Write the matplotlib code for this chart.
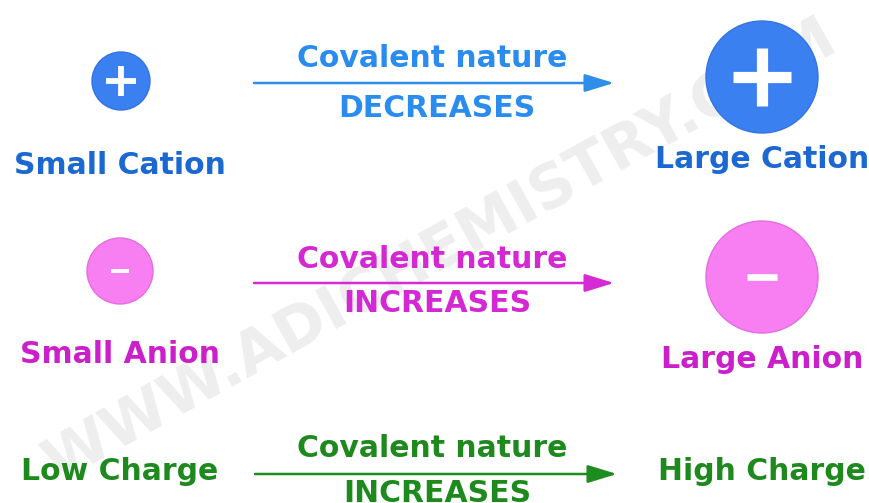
import matplotlib
matplotlib.use("Agg")
import matplotlib.pyplot as plt
from matplotlib.patches import Circle, FancyArrowPatch

# chart content
left_labels = ["Small Cation", "Small Anion", "Low Charge"]
right_labels = ["Large Cation", "Large Anion", "High Charge"]
arrow_caption = "Covalent nature"
trend_words = ["DECREASES", "INCREASES", "INCREASES"]
ion_signs = ["+", "-", None]
watermark = "WWW.ADICHEMISTRY.COM"

# colours per row
label_colors = ["#1b68d2", "#cc1fcc", "#1e8a1e"]
caption_colors = ["#2a8cef", "#d428d4", "#1e8a1e"]
arrow_colors = ["#2f8fe8", "#d52ad5", "#1f8c1f"]
circle_colors = ["#3b80f0", "#f77ff2", None]
circle_edges = ["#3474e0", "#e46ee0", None]

# layout (pixels, y down)
arrow_y = [83, 283, 474]
arrow_x = [(254, 614), (254, 614), (255, 617)]
caption_base = [67, 268, 457]
trend_base = [117, 312, 502]
left_base = [174, 363, 480]
right_base = [168, 368, 480]
small_circ = [(121, 81, 29), (120, 271, 33)]
large_circ = [(762, 77, 56), (762, 277, 56)]

fig = plt.figure(figsize=(8.7, 5.03), dpi=100)
ax = fig.add_axes([0, 0, 1, 1])
ax.set_xlim(0, 870)
ax.set_ylim(503, 0)
ax.axis("off")

fs = 21.5
px = 72 / 100  # points per pixel

ax.text(440, 252, watermark, fontsize=43.5, fontweight="bold", color="#d9d9d9",
        alpha=0.45, rotation=29, ha="center", va="center",
        rotation_mode="anchor", zorder=0)


def draw_ion(cx, cy, r, fc, ec, sign):
    ax.add_patch(Circle((cx, cy), r, facecolor=fc, edgecolor=ec, lw=1, zorder=2))
    if sign == "+":
        arm, lw = r * 0.52, r * 0.2 * px
    else:
        arm, lw = r * 0.26, r * 0.12 * px
    ax.plot([cx - arm, cx + arm], [cy, cy], color="white", lw=lw,
            solid_capstyle="butt", zorder=3)
    if sign == "+":
        ax.plot([cx, cx], [cy - arm, cy + arm], color="white", lw=lw,
                solid_capstyle="butt", zorder=3)


for i in range(3):
    if ion_signs[i]:
        draw_ion(*small_circ[i], circle_colors[i], circle_edges[i], ion_signs[i])
        draw_ion(*large_circ[i], circle_colors[i], circle_edges[i], ion_signs[i])

    x0, x1 = arrow_x[i]
    ax.add_patch(FancyArrowPatch((x0, arrow_y[i]), (x1, arrow_y[i]),
                                 arrowstyle="-|>,head_length=1.8,head_width=0.55",
                                 mutation_scale=10, lw=1.8,
                                 color=arrow_colors[i], shrinkA=0, shrinkB=0,
                                 zorder=2))
    ax.text(432, caption_base[i], arrow_caption, fontsize=fs, fontweight="bold",
            color=caption_colors[i], ha="center", va="baseline", zorder=4)
    ax.text(437, trend_base[i], trend_words[i], fontsize=fs, fontweight="bold",
            color=caption_colors[i], ha="center", va="baseline", zorder=4)
    ax.text(120, left_base[i], left_labels[i], fontsize=fs, fontweight="bold",
            color=label_colors[i], ha="center", va="baseline", zorder=4)
    ax.text(762, right_base[i], right_labels[i], fontsize=fs, fontweight="bold",
            color=label_colors[i], ha="center", va="baseline", zorder=4)

fig.savefig("out.png", dpi=100, facecolor="white")
